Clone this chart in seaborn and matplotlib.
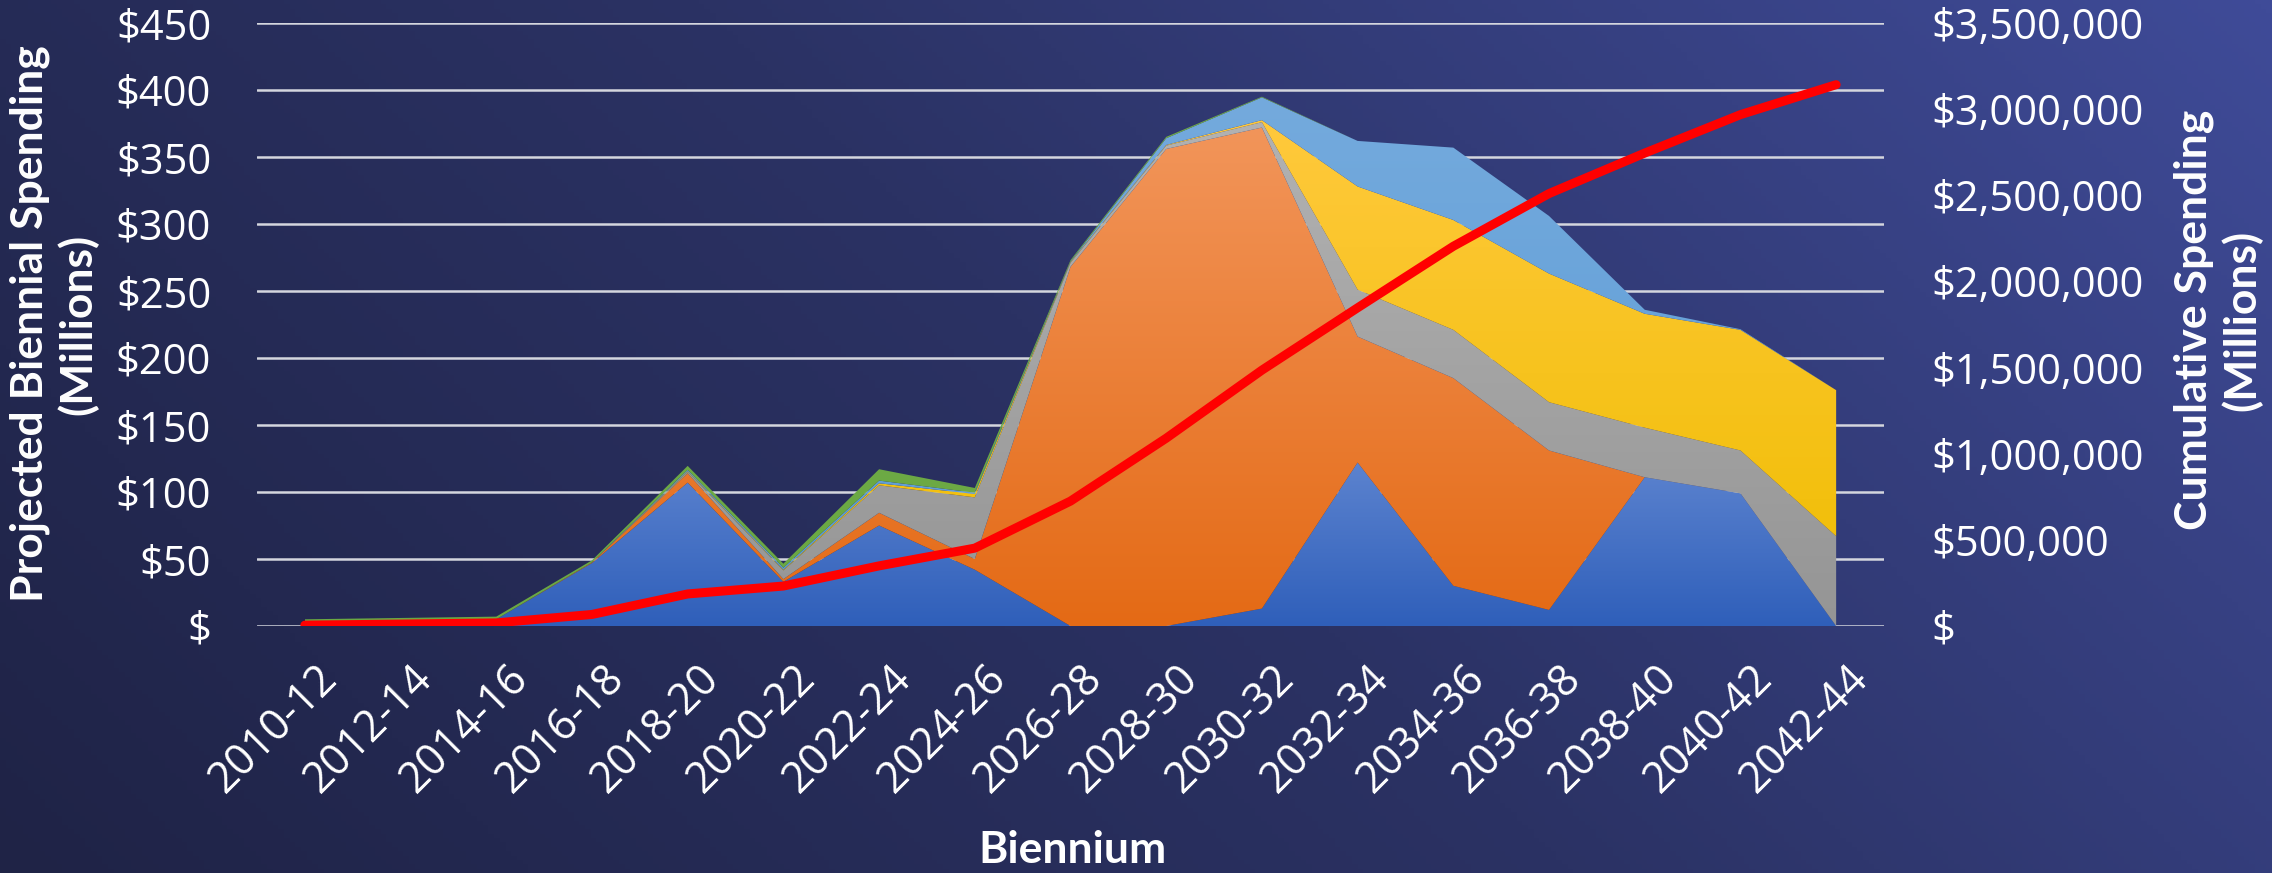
import numpy as np
import pandas as pd
import matplotlib
matplotlib.use("Agg")
import matplotlib.pyplot as plt
import matplotlib.transforms as mtransforms
import seaborn as sns
from matplotlib.colors import LinearSegmentedColormap
from matplotlib.patches import PathPatch
from matplotlib.ticker import FixedLocator, FuncFormatter

# ---------------- data ----------------
biennia = ["2010-12", "2012-14", "2014-16", "2016-18", "2018-20", "2020-22",
           "2022-24", "2024-26", "2026-28", "2028-30", "2030-32", "2032-34",
           "2034-36", "2036-38", "2038-40", "2040-42", "2042-44"]

s_blue      = [0, 0, 5, 47, 107, 33, 75, 42, 0, 0, 13, 122, 30, 12, 111, 99, 0]
s_orange    = [0, 0, 0, 0.5, 7, 2, 9.5, 8, 268, 356, 359, 94, 155, 119, 0, 0, 0]
s_gray      = [0, 0, 0, 0, 1, 6.5, 20.5, 46, 3, 2.5, 4, 35, 36, 36, 37, 32, 67]
s_yellow    = [0, 0, 0, 0, 0.5, 0.5, 1.5, 2.5, 0.5, 0.5, 1.5, 77, 82, 96, 85, 90, 109]
s_lightblue = [0, 0, 0, 0, 1, 1.5, 2, 1, 0.5, 5, 17, 34, 54, 43, 3, 0.5, 0]
s_green     = [5, 6, 2, 1.5, 3, 3, 8.5, 3.5, 1, 1, 0.5, 0, 0, 0, 0, 0, 0]

cumulative = [5000, 11000, 18000, 67000, 186000, 232000, 349000, 452000, 725000,
              1090000, 1485000, 1847000, 2204000, 2510000, 2745000, 2968000, 3142000]

left_ticks = [0, 50, 100, 150, 200, 250, 300, 350, 400, 450]
right_ticks = [0, 500000, 1000000, 1500000, 2000000, 2500000, 3000000, 3500000]

# ---------------- style ----------------
sns.set_theme(style="white")
plt.rcParams["font.family"] = ["Open Sans", "DejaVu Sans"]
LABEL_FONT = ["Lato", "DejaVu Sans"]

W, H = 2272, 873
fig = plt.figure(figsize=(W / 100, H / 100), dpi=100)

# background gradient (dark bottom-left -> lighter top-right)
bg = fig.add_axes([0, 0, 1, 1], zorder=-10)
gy, gx = np.mgrid[0:1:200j, 0:1:400j]
t = (gx * W + gy * H) / (W + H)
bgcmap = LinearSegmentedColormap.from_list("bg", ["#1f2346", "#2b3264", "#3f4b98"])
bg.imshow(t, cmap=bgcmap, extent=[0, 1, 0, 1], origin="lower", aspect="auto")
bg.set_axis_off()

L, R, B, T = 257, 1884, 626, 23
ax = fig.add_axes([L / W, 1 - B / H, (R - L) / W, (B - T) / H])
ax.patch.set_alpha(0)
ax.set_axisbelow(True)

x = np.arange(len(biennia))
layers = [
    (s_blue, "#2f5fba", "#5c83cf"),
    (s_orange, "#e46a15", "#f2955a"),
    (s_gray, "#959595", "#b2b2b2"),
    (s_yellow, "#efbd00", "#ffc93c"),
    (s_lightblue, "#5b9bd5", "#74aadd"),
    (s_green, "#6aa843", "#72ae48"),
]

base = np.zeros(len(x))
for i, (vals, cbot, ctop) in enumerate(layers):
    top = base + np.array(vals, dtype=float)
    poly = ax.fill_between(x, base, top, facecolor="none", edgecolor="none", lw=0)
    path = poly.get_paths()[0]
    patch = PathPatch(path, transform=ax.transData, fc="none", ec="none")
    ax.add_patch(patch)
    ymin, ymax = base.min(), top.max()
    if ymax > ymin:
        cmap = LinearSegmentedColormap.from_list(f"g{i}", [cbot, ctop])
        grad = np.linspace(0, 1, 256).reshape(-1, 1)
        im = ax.imshow(grad, cmap=cmap, extent=[x[0], x[-1], ymin, ymax],
                       origin="lower", aspect="auto", zorder=2 + i * 0.01,
                       interpolation="bilinear")
        im.set_clip_path(patch)
    base = top

ax.set_xlim(-0.5, len(x) - 0.5)
ax.set_ylim(0, 450)
ax.yaxis.set_major_locator(FixedLocator(left_ticks))
ax.yaxis.set_major_formatter(FuncFormatter(lambda v, p: "$" if v == 0 else f"${v:,.0f}"))
ax.grid(axis="y", color="#d4d6de", linewidth=1.8)
ax.grid(axis="x", visible=False)
for sp in ax.spines.values():
    sp.set_visible(False)
ax.set_xticks(x)
ax.set_xticklabels(biennia, rotation=45, ha="right", rotation_mode="anchor")
ax.tick_params(axis="x", length=0, pad=22, labelsize=31, labelcolor="white")
ax.tick_params(axis="y", length=0, pad=33, labelsize=30, labelcolor="white")
shift = mtransforms.ScaledTranslation(10 / 100, 0, fig.dpi_scale_trans)
for lab in ax.get_xticklabels():
    lab.set_transform(lab.get_transform() + shift)

# cumulative line on secondary axis
ax2 = ax.twinx()
df = pd.DataFrame({"idx": x, "cum": cumulative})
sns.lineplot(data=df, x="idx", y="cum", ax=ax2, color="#ff0000", linewidth=6.5,
             solid_capstyle="round", zorder=5)
ax2.set_ylim(0, 3500000)
ax2.set_xlim(-0.5, len(x) - 0.5)
ax2.yaxis.set_major_locator(FixedLocator(right_ticks))
ax2.yaxis.set_major_formatter(FuncFormatter(lambda v, p: "$" if v == 0 else f"${v:,.0f}"))
ax2.grid(False)
for sp in ax2.spines.values():
    sp.set_visible(False)
ax2.set_xlabel("")
ax2.set_ylabel("")
ax2.tick_params(axis="y", length=0, pad=34, labelsize=30, labelcolor="white")

# axis titles
fig.text(54 / W, 1 - 324 / H, "Projected Biennial Spending\n(Millions)", rotation=90,
         ha="center", va="center", multialignment="center", color="white",
         fontsize=32, fontweight="bold", family=LABEL_FONT, linespacing=1.2)
fig.text(2218 / W, 1 - 320 / H, "Cumulative Spending\n(Millions)", rotation=90,
         ha="center", va="center", multialignment="center", color="white",
         fontsize=32, fontweight="bold", family=LABEL_FONT, linespacing=1.2)
fig.text(1072 / W, 1 - 850 / H, "Biennium", ha="center", va="center", color="white",
         fontsize=32, fontweight="bold", family=LABEL_FONT)

fig.savefig("out.png", dpi=100)
